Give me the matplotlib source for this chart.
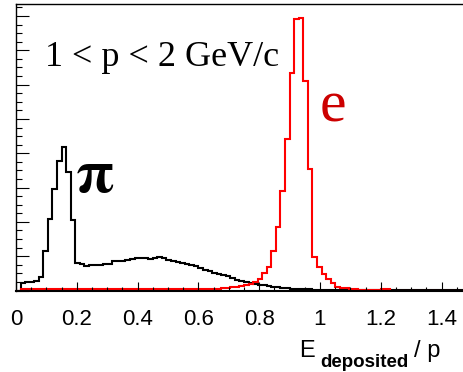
import matplotlib
matplotlib.use("Agg")
import matplotlib.pyplot as plt
from matplotlib.ticker import MultipleLocator, FuncFormatter

# histogram binning: 100 bins from 0 to 1.5
bin_lo = 0.0
bin_hi = 1.5
n_bins = 100

# pion E/p distribution (counts per bin)
pion_counts = [
    0, 230, 250, 260, 280, 380, 1160, 2090, 2970, 3780,
    4190, 3460, 2060, 810, 760, 710, 730, 730, 740, 760,
    780, 870, 870, 870, 900, 930, 940, 960, 960, 930,
    940, 970, 940, 900, 860, 840, 800, 770, 730, 700,
    650, 610, 570, 520, 490, 450, 410, 360, 320, 290,
    260, 230, 200, 170, 150, 130, 100, 90, 70, 60,
    40, 30, 30, 30, 30, 15, 15, 15, 15, 15,
    15, 15, 15, 15, 15, 15, 15, 15, 15, 15,
    15, 10, 10, 10, 10, 10, 10, 10, 10, 10,
    10, 10, 10, 10, 10, 10, 10, 10, 10, 10,
]

# electron E/p distribution
electron_counts = [
    0, 30, 30, 30, 30, 30, 30, 30, 30, 30,
    30, 30, 30, 30, 30, 30, 30, 30, 30, 30,
    30, 30, 30, 30, 30, 30, 30, 30, 30, 30,
    30, 30, 30, 30, 30, 30, 30, 30, 30, 30,
    30, 30, 30, 45, 50, 60, 80, 95, 115, 130,
    165, 195, 235, 340, 505, 680, 1165, 1840, 2910, 4410,
    6345, 7900, 7930, 6105, 3540, 970, 680, 485, 340, 210,
    115, 80, 80, 45, 30, 18, 18, 18, 18, 18,
    30, 30, 0, 0, 0, 0, 0, 0, 0, 0,
    0, 0, 0, 0, 0, 0, 0, 0, 0, 0,
]

x_ticks = [0, 0.2, 0.4, 0.6, 0.8, 1.0, 1.2, 1.4]

edges = [bin_lo + i * (bin_hi - bin_lo) / n_bins for i in range(n_bins + 1)]

fig = plt.figure(figsize=(4.64, 3.72), dpi=100)
ax = fig.add_axes([16 / 464, 81.5 / 372, 456 / 464, 286.5 / 372])

ax.stairs(pion_counts, edges, color="black", linewidth=1.5)
ax.stairs(electron_counts, edges, color="#ff0000", linewidth=1.5)

ax.set_xlim(bin_lo, bin_hi)
ax.set_ylim(0, 8350)

for side in ["top", "left", "right"]:
    ax.spines[side].set_linewidth(1.0)
ax.spines["bottom"].set_linewidth(1.5)

ax.set_xticks(x_ticks)
ax.xaxis.set_minor_locator(MultipleLocator(0.05))
ax.xaxis.set_major_formatter(FuncFormatter(lambda v, p: f"{v:g}"))
ax.yaxis.set_major_locator(MultipleLocator(1000))
ax.yaxis.set_minor_locator(MultipleLocator(250))
ax.set_yticklabels([])

ax.tick_params(axis="x", which="major", direction="in", length=6.7, width=0.8,
               pad=13, labelsize=16, top=False)
ax.tick_params(axis="x", which="minor", direction="in", length=2.9, width=0.8, top=False)
ax.tick_params(axis="y", which="major", direction="in", length=9, width=0.8, right=False)
ax.tick_params(axis="y", which="minor", direction="in", length=4.3, width=0.8, right=False)
for lbl in ax.get_xticklabels():
    lbl.set_fontfamily("Liberation Sans")

# annotations
fig.text(45 / 464, (372 - 65.7) / 372, "1 < p < 2 GeV/c", fontsize=26,
         family="Liberation Serif", va="baseline", ha="left")
fig.text(75 / 464, (372 - 191.7) / 372, r"$\mathbf{\pi}$", fontsize=44,
         math_fontfamily="stix", va="baseline", ha="left")
fig.text(320 / 464, (372 - 121) / 372, "e", fontsize=43, color="#cc0000",
         family="Liberation Serif", va="baseline", ha="left")

# x-axis title: E_deposited / p
fig.text(299 / 464, (372 - 356.7) / 372, "E", fontsize=17,
         family="Liberation Sans", va="baseline", ha="left")
fig.text(320 / 464, (372 - 367.3) / 372, "deposited", fontsize=13.5, weight="bold",
         family="Liberation Sans", va="baseline", ha="left")
fig.text(414 / 464, (372 - 357.3) / 372, "/ p", fontsize=17,
         family="Liberation Sans", va="baseline", ha="left")

fig.savefig("out.png", dpi=100)
